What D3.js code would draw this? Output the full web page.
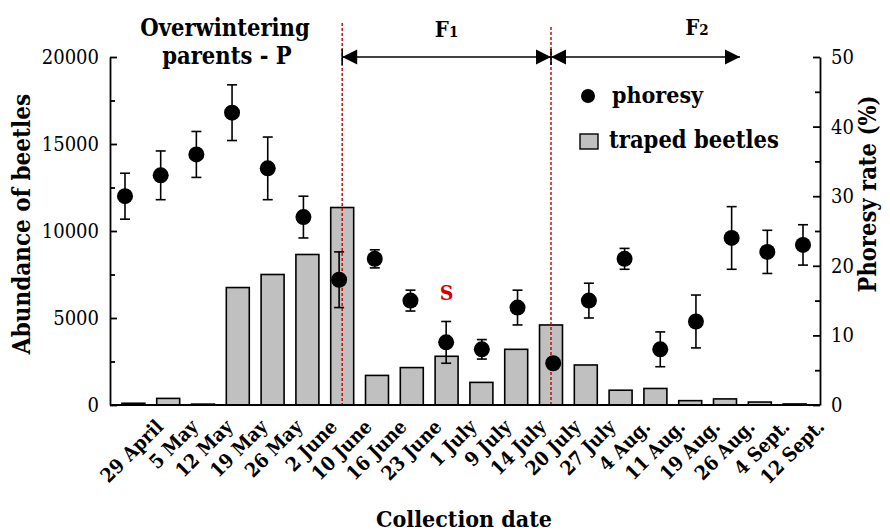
<!DOCTYPE html>
<html>
<head>
<meta charset="utf-8">
<script src="https://cdn.jsdelivr.net/npm/d3@7"></script>
<style>
  body { margin: 0; background: #fff; }
  text { font-family: "DejaVu Serif Condensed", "DejaVu Serif", serif; fill: #000; }
</style>
</head>
<body>
<svg id="chart" width="890" height="532"></svg>
<script>
// collection dates
const dates = ["29 April", "5 May", "12 May", "19 May", "26 May", "2 June", "10 June", "16 June",
  "23 June", "1 July", "9 July", "14 July", "20 July", "27 July", "4 Aug.", "11 Aug.",
  "19 Aug.", "26 Aug.", "4 Sept.", "12 Sept."]

// trapped beetles (left axis)
const trapped = [100, 380, 50, 6750, 7500, 8650, 11350, 1700, 2150, 2800,
  1300, 3200, 4600, 2300, 850, 950, 250, 350, 170, 60]

// phoresy rate % and error (right axis)
const phoresy = [30, 33, 36, 42, 34, 27, 18, 21, 15, 9, 8, 14, 6, 15, 21, 8, 12, 24, 22, 23]
const phoresyErr = [3.3, 3.5, 3.3, 4, 4.5, 3, 4, 1.3, 1.5, 3, 1.4, 2.5, 0.5, 2.5, 1.5, 2.5, 3.8, 4.5, 3.1, 2.9]

const leftTicks = [0, 5000, 10000, 15000, 20000]
const rightTicks = [0, 10, 20, 30, 40, 50]
const generationBreaks = ["10 June", "20 July"]

const svg = d3.select("#chart")

const plotL = 110, plotR = 820, plotT = 57, plotB = 405

const xBar = d3.scaleBand().domain(dates).range([116, 812]).paddingInner(0.34).paddingOuter(0.17)
const xPt = d3.scalePoint().domain(dates).range([125, 803])
const yL = d3.scaleLinear().domain([0, 20000]).range([plotB, plotT])
const yR = d3.scaleLinear().domain([0, 50]).range([plotB, plotT])

const bw = xBar.bandwidth()
const cx = d => xBar(d) + bw / 2

// bars
svg.append("g").selectAll("rect")
  .data(trapped)
  .enter().append("rect")
  .attr("x", (d, i) => xBar(dates[i]))
  .attr("y", d => yL(d))
  .attr("width", bw)
  .attr("height", d => plotB - yL(d))
  .attr("fill", "#c0c0c0")
  .attr("stroke", "#000")
  .attr("stroke-width", 1.6)

// generation separators
svg.append("g").selectAll("line")
  .data(generationBreaks)
  .enter().append("line")
  .attr("x1", d => cx(d)).attr("x2", d => cx(d))
  .attr("y1", (d, i) => i == 0 ? 23 : 27).attr("y2", plotB)
  .attr("stroke", "#c00000")
  .attr("stroke-width", 1.4)
  .attr("stroke-dasharray", "3,2")

// error bars + points
const err = svg.append("g").attr("stroke", "#000").attr("stroke-width", 1.6)
phoresy.forEach((v, i) => {
  const x = xPt(dates[i])
  const e = phoresyErr[i]
  err.append("line").attr("x1", x).attr("x2", x).attr("y1", yR(v - e)).attr("y2", yR(v + e))
  err.append("line").attr("x1", x - 5).attr("x2", x + 5).attr("y1", yR(v - e)).attr("y2", yR(v - e))
  err.append("line").attr("x1", x - 5).attr("x2", x + 5).attr("y1", yR(v + e)).attr("y2", yR(v + e))
})

svg.append("g").selectAll("circle")
  .data(phoresy)
  .enter().append("circle")
  .attr("cx", (d, i) => xPt(dates[i]))
  .attr("cy", d => yR(d))
  .attr("r", 8)
  .attr("fill", "#000")

// axes
const axisL = svg.append("g").attr("transform", `translate(${plotL},0)`)
  .call(d3.axisLeft(yL).tickValues(leftTicks).tickFormat(d3.format("d")).tickSizeInner(-7).tickSizeOuter(0).tickPadding(11))
const axisLMinor = svg.append("g").attr("transform", `translate(${plotL},0)`)
  .call(d3.axisLeft(yL).tickValues([2500, 7500, 12500, 17500]).tickSizeInner(-5).tickSizeOuter(0).tickFormat(""))
const axisR = svg.append("g").attr("transform", `translate(${plotR},0)`)
  .call(d3.axisRight(yR).tickValues(rightTicks).tickSizeInner(-7).tickSizeOuter(0).tickPadding(11))
const axisRMinor = svg.append("g").attr("transform", `translate(${plotR},0)`)
  .call(d3.axisRight(yR).tickValues([5, 15, 25, 35, 45]).tickSizeInner(-5).tickSizeOuter(0).tickFormat(""))

;[axisL, axisLMinor, axisR, axisRMinor].forEach(a => {
  a.attr("font-family", null)
  a.selectAll("path, line").attr("stroke", "#000").attr("stroke-width", 1.8)
  a.selectAll("text").style("font-size", "20px")
})
axisLMinor.select(".domain").remove()
axisRMinor.select(".domain").remove()

svg.append("line")
  .attr("x1", plotL).attr("x2", plotR).attr("y1", plotB).attr("y2", plotB)
  .attr("stroke", "#000").attr("stroke-width", 1.8)

// x labels
svg.append("g").selectAll("text")
  .data(dates)
  .enter().append("text")
  .attr("transform", d => `translate(${cx(d) + 31},428) rotate(-45)`)
  .attr("text-anchor", "end")
  .style("font-size", "19.5px")
  .style("font-weight", "bold")
  .text(d => d)

// axis titles
svg.append("text")
  .attr("transform", "translate(30,224) rotate(-90)")
  .attr("text-anchor", "middle")
  .style("font-size", "24px").style("font-weight", "bold")
  .text("Abundance of beetles")

svg.append("text")
  .attr("transform", "translate(876,194) rotate(-90)")
  .attr("text-anchor", "middle")
  .style("font-size", "23.5px").style("font-weight", "bold")
  .text("Phoresy rate (%)")

svg.append("text")
  .attr("x", 464).attr("y", 527)
  .attr("text-anchor", "middle")
  .style("font-size", "23px").style("font-weight", "bold")
  .text("Collection date")

// header annotations
svg.append("text").attr("x", 225).attr("y", 36).attr("text-anchor", "middle")
  .style("font-size", "23.5px").style("font-weight", "bold").text("Overwintering")
svg.append("text").attr("x", 227).attr("y", 64).attr("text-anchor", "middle")
  .style("font-size", "23.5px").style("font-weight", "bold").text("parents - P")

const xa = cx(generationBreaks[0]), xb = cx(generationBreaks[1]), xc = 740
const arrowY = 57
const ann = svg.append("g")
ann.append("line").attr("x1", xa).attr("x2", xc).attr("y1", arrowY).attr("y2", arrowY)
  .attr("stroke", "#000").attr("stroke-width", 1.6)
ann.selectAll("line.tick")
  .data([xa, xb])
  .enter().append("line")
  .attr("x1", d => d).attr("x2", d => d).attr("y1", arrowY - 8).attr("y2", arrowY + 8)
  .attr("stroke", "#000").attr("stroke-width", 1.6)
const heads = [[xa, 1], [xb, -1], [xb, 1], [xc, -1]]
ann.selectAll("path")
  .data(heads)
  .enter().append("path")
  .attr("d", d => `M${d[0]},${arrowY}L${d[0] + d[1] * 15},${arrowY - 7.5}L${d[0] + d[1] * 15},${arrowY + 7.5}Z`)
  .attr("fill", "#000")

const f1 = svg.append("text").attr("x", (xa + xb) / 2).attr("y", 37).attr("text-anchor", "middle")
  .style("font-size", "22px").style("font-weight", "bold")
f1.append("tspan").text("F")
f1.append("tspan").style("font-size", "15px").text("1")
const f2 = svg.append("text").attr("x", 697).attr("y", 35).attr("text-anchor", "middle")
  .style("font-size", "22px").style("font-weight", "bold")
f2.append("tspan").text("F")
f2.append("tspan").style("font-size", "15px").text("2")

svg.append("text").attr("x", cx("1 July")).attr("y", 300).attr("text-anchor", "middle")
  .style("font-size", "21px").style("font-weight", "bold").style("fill", "#d00000").text("S")

// legend
const leg = svg.append("g")
leg.append("circle").attr("cx", 588).attr("cy", 96).attr("r", 7).attr("fill", "#000")
leg.append("text").attr("x", 612).attr("y", 103)
  .style("font-size", "23px").style("font-weight", "bold").text("phoresy")
leg.append("rect").attr("x", 580).attr("y", 134).attr("width", 18).attr("height", 15)
  .attr("fill", "#c0c0c0").attr("stroke", "#000").attr("stroke-width", 1.4)
leg.append("text").attr("x", 609).attr("y", 148)
  .style("font-size", "23.5px").style("font-weight", "bold").text("traped beetles")
</script>
</body>
</html>
